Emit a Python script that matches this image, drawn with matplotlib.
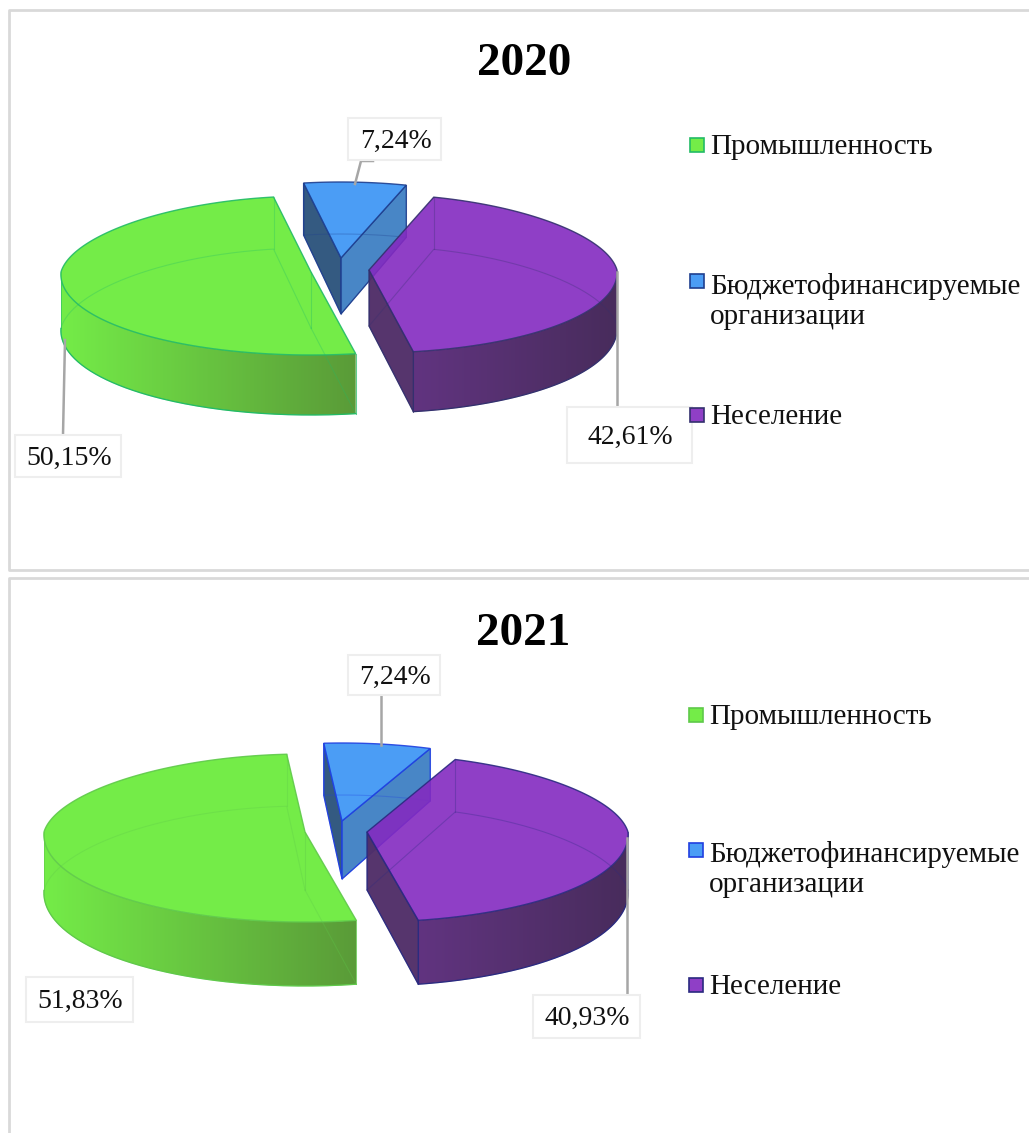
import numpy as np
import matplotlib
matplotlib.use("Agg")
import matplotlib.pyplot as plt
from matplotlib.patches import Polygon, Rectangle

plt.rcParams['font.family'] = ['Liberation Serif', 'DejaVu Serif']

# ---------- data ----------
categories = ["Промышленность", "Бюджетофинансируемые\nорганизации", "Неселение"]
years = ["2020", "2021"]
values_2020 = [50.15, 7.24, 42.61]
values_2021 = [51.83, 7.24, 40.93]
labels_2020 = ["50,15%", "7,24%", "42,61%"]
labels_2021 = ["51,83%", "7,24%", "40,93%"]

# ---------- style ----------
TOP = [(116, 236, 72), (75, 157, 245), (143, 63, 198)]
SIDE_L = [(116, 236, 72), None, (97, 52, 128)]
SIDE_R = [(90, 155, 56), None, (72, 44, 92)]
WALL_S = [None, (45, 85, 125), None]
WALL_E = [None, (66, 130, 196), (80, 46, 104)]
GRAY = "#a6a6a6"
FRAME = "#d9d9d9"
TOP_ALPHA = 0.9


def c(rgb):
    return tuple(v / 255 for v in rgb)


def comp(rgb, alpha):
    """Face colour that looks like rgb once laid at alpha over white."""
    return tuple(max(0.0, (v / 255 - (1 - alpha)) / alpha) for v in rgb)


fig = plt.figure(figsize=(10.29, 11.33), dpi=100, facecolor="white")
ax = fig.add_axes([0, 0, 1, 1])
ax.set_xlim(0, 1029)
ax.set_ylim(1133, 0)
ax.axis("off")


def draw_wedge(g, i, ts, te):
    """One exploded slice; ts > te, clockwise, angles in degrees."""
    cx, cy = g["centers"][i]
    a = g["a"][i]

    def pt(t, r=1.0, z=0.0):
        s = np.sin(np.radians(t))
        k = np.cos(np.radians(t))
        persp = 1 - (0.09 if s > 0 else 0.03) * s * r
        b = g["b_back"] if s > 0 else g["b_front"]
        d = g["d0"] - g["d1"] * s * r
        return cx + a * k * r * persp, cy - b * s * r + z * d

    th = np.linspace(ts, te, 240)
    top_arc = [pt(t) for t in th]
    bot_arc = [pt(t, z=1) for t in th]
    C0, C1 = pt(0, 0), pt(0, 0, 1)
    edge = g["edges"][i]
    z = 2 + i

    # visible curved wall with a horizontal gradient
    vis = np.sin(np.radians(th)) <= 0
    if vis.any() and SIDE_L[i] is not None:
        up = [p for p, v in zip(top_arc, vis) if v]
        dn = [p for p, v in zip(bot_arc, vis) if v]
        poly = Polygon(up + dn[::-1], closed=True, transform=ax.transData,
                       fc="none", ec="none")
        ax.add_patch(poly)
        xs = [p[0] for p in up]
        ys = [p[1] for p in up + dn]
        grad = np.linspace(np.array(c(SIDE_L[i])), np.array(c(SIDE_R[i])), 128)[None, :, :]
        im = ax.imshow(grad, extent=(min(xs), max(xs), max(ys), min(ys)),
                       aspect="auto", zorder=z, interpolation="bilinear")
        im.set_clip_path(poly)
        ax.plot([p[0] for p in dn], [p[1] for p in dn], color=edge, lw=0.9, zorder=z + .1)
        for p, q in ((up[0], dn[0]), (up[-1], dn[-1])):
            ax.plot([p[0], q[0]], [p[1], q[1]], color=edge, lw=0.7, alpha=.6, zorder=z + .1)

    # radial walls facing the viewer
    for t, col, front in ((ts, WALL_S[i], np.cos(np.radians(ts)) < 0),
                          (te, WALL_E[i], np.cos(np.radians(te)) > 0)):
        if front and col is not None:
            ax.add_patch(Polygon([C0, pt(t), pt(t, z=1), C1], closed=True,
                                 fc=c(col), ec=edge, lw=0.9, alpha=.97, zorder=z + .05))

    # top face
    ax.add_patch(Polygon([C0] + top_arc, closed=True, fc=comp(TOP[i], TOP_ALPHA), ec=edge,
                         lw=1.0, alpha=TOP_ALPHA, zorder=z + .2))

    # faint lines of the hidden floor and back corners
    fl = [C1] + bot_arc + [C1]
    ax.plot([p[0] for p in fl], [p[1] for p in fl], color=edge, lw=0.8, alpha=.3, zorder=z + .3)
    for t in (ts, te):
        p, q = pt(t), pt(t, z=1)
        ax.plot([p[0], q[0]], [p[1], q[1]], color=edge, lw=0.8, alpha=.3, zorder=z + .3)
    ax.plot([C0[0], C1[0]], [C0[1], C1[1]], color=edge, lw=0.8, alpha=.35, zorder=z + .3)


def label_box(x0, y0, x1, y1, text):
    ax.add_patch(Rectangle((x0, y0), x1 - x0, y1 - y0, fc="white", ec="#eeeeee", lw=1.5, zorder=12))
    ax.text((x0 + x1) / 2 + 1, (y0 + y1) / 2 + 2, text, ha="center", va="center", fontsize=20,
            color="#111111", zorder=13)


panels = [
    dict(values=values_2020, labels=labels_2020, year=years[0], start=280,
         centers=[(311, 272), (341, 258), (369, 270)], a=[250, 250, 248], b_back=76, b_front=83, d0=56, d1=4,
         edges=["#22bb66", "#1f3f8f", "#33306e"],
         title=(524, 64), leg_x=690, leg_tx=710, leg_y=[145, 281, 415], leg_ty=[147, 301, 417],
         boxes=[(15, 435, 121, 477), (348, 118, 441, 160), (567, 407, 692, 463)],
         leaders=[[(65, 340), (63, 435)], [(355, 184), (361, 161), (373, 161)], [(617, 272), (617, 407)]]),
    dict(values=values_2021, labels=labels_2021, year=years[1], start=281,
         centers=[(305, 832), (342, 821), (367, 832)], a=[261, 261, 261], b_back=78, b_front=90, d0=58, d1=6,
         edges=["#5fc94a", "#2040e0", "#2a2a80"],
         title=(523, 634), leg_x=689, leg_tx=709, leg_y=[715, 850, 985], leg_ty=[717, 870, 987],
         boxes=[(26, 977, 133, 1022), (348, 655, 440, 695), (533, 995, 640, 1038)],
         leaders=[[], [(381, 745), (381, 695)], [(627, 838), (627, 995)]]),
]

# frames
ax.plot([1029, 9, 9, 1029], [10, 10, 570, 570], color=FRAME, lw=2, zorder=1)
ax.plot([1029, 9, 9], [578, 578, 1133], color=FRAME, lw=2, zorder=1)

for g in panels:
    ax.text(*g["title"], g["year"], ha="center", va="center", fontsize=34, fontweight="bold",
            color="black")
    t = g["start"]
    for i, v in enumerate(g["values"]):
        te = t - v * 3.6
        draw_wedge(g, i, t, te)
        t = te
    for pts in g["leaders"]:
        if pts:
            ax.plot([p[0] for p in pts], [p[1] for p in pts], color=GRAY, lw=1.8, zorder=11)
    for box, lab in zip(g["boxes"], g["labels"]):
        label_box(*box, lab)
    for i, name in enumerate(categories):
        y = g["leg_y"][i]
        ax.add_patch(Rectangle((g["leg_x"], y - 7), 14, 14, fc=c(TOP[i]), ec=g["edges"][i], lw=1.2, zorder=14))
        ax.text(g["leg_tx"], g["leg_ty"][i], name, ha="left", va="center", fontsize=21,
                color="#111111", linespacing=1.2, zorder=14)

ax.set_xlim(0, 1029)
ax.set_ylim(1133, 0)
fig.savefig("out.png", dpi=100, facecolor="white")
